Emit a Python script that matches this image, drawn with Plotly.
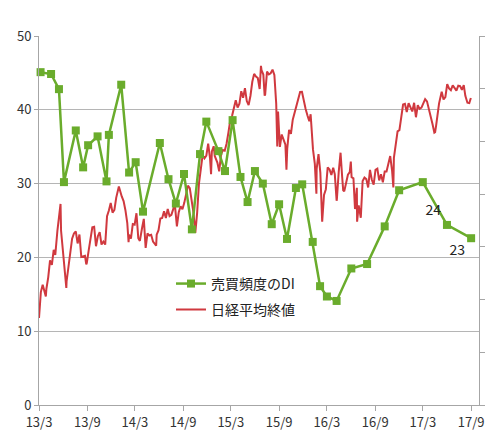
import plotly.graph_objects as go

# ---- 売買頻度のDI (left axis) ----
di_dates = ["2013-03-07", "2013-04-16", "2013-05-16", "2013-06-04", "2013-07-19", "2013-08-16",
            "2013-09-04", "2013-10-10", "2013-11-13", "2013-11-22", "2014-01-08", "2014-02-07",
            "2014-03-04", "2014-04-01", "2014-06-04", "2014-07-07", "2014-08-04", "2014-09-04",
            "2014-10-04", "2014-11-04", "2014-11-28", "2015-01-13", "2015-02-07", "2015-03-08",
            "2015-04-07", "2015-05-04", "2015-06-01", "2015-07-01", "2015-08-04", "2015-09-01",
            "2015-10-01", "2015-11-04", "2015-11-28", "2016-01-07", "2016-02-04", "2016-03-01",
            "2016-04-07", "2016-06-02", "2016-08-01", "2016-10-07", "2016-12-01", "2017-03-01",
            "2017-06-01", "2017-09-01"]
di_values = [45.1, 44.85, 42.8, 30.2, 37.2, 32.2,
             35.2, 36.4, 30.3, 36.6, 43.4, 31.5,
             32.9, 26.2, 35.5, 30.6, 27.3, 31.3,
             23.8, 34.0, 38.4, 34.4, 31.7, 38.6,
             30.9, 27.5, 31.7, 30.0, 24.5, 27.2,
             22.5, 29.4, 29.9, 22.1, 16.1, 14.7,
             14.1, 18.5, 19.1, 24.2, 29.1, 30.2,
             24.4, 22.6]
labelled_points = [len(di_values) - 2, len(di_values) - 1]

# ---- 日経平均終値 (right axis, yen) ----
nikkei = [
    ("2013-03-01", 11300), ("2013-03-04", 11650), ("2013-03-08", 12283), ("2013-03-15", 12560),
    ("2013-03-22", 12338), ("2013-03-27", 12120), ("2013-03-29", 12398), ("2013-04-05", 12833),
    ("2013-04-12", 13485), ("2013-04-19", 13317), ("2013-04-26", 13884), ("2013-05-02", 13694),
    ("2013-05-10", 14607), ("2013-05-17", 15138), ("2013-05-22", 15627), ("2013-05-24", 14612),
    ("2013-05-31", 13774), ("2013-06-07", 12877), ("2013-06-13", 12445), ("2013-06-14", 12686),
    ("2013-06-21", 13230), ("2013-06-28", 13677), ("2013-07-05", 14309), ("2013-07-12", 14506),
    ("2013-07-19", 14589), ("2013-07-26", 14129), ("2013-08-02", 14466), ("2013-08-09", 13615),
    ("2013-08-16", 13650), ("2013-08-23", 13660), ("2013-08-28", 13338), ("2013-08-30", 13389),
    ("2013-09-06", 13860), ("2013-09-13", 14404), ("2013-09-20", 14742), ("2013-09-27", 14760),
    ("2013-10-04", 14024), ("2013-10-11", 14404), ("2013-10-18", 14561), ("2013-10-25", 14088),
    ("2013-11-01", 14201), ("2013-11-08", 14086), ("2013-11-15", 15166), ("2013-11-22", 15381),
    ("2013-11-29", 15662), ("2013-12-06", 15299), ("2013-12-13", 15403), ("2013-12-20", 15870),
    ("2013-12-27", 16178), ("2013-12-30", 16291), ("2014-01-10", 15912), ("2014-01-17", 15734),
    ("2014-01-24", 15391), ("2014-01-31", 14915), ("2014-02-05", 14180), ("2014-02-07", 14462),
    ("2014-02-14", 14313), ("2014-02-21", 14865), ("2014-02-28", 14841), ("2014-03-07", 15274),
    ("2014-03-14", 14327), ("2014-03-20", 14224), ("2014-03-28", 14696), ("2014-04-04", 15063),
    ("2014-04-11", 13960), ("2014-04-18", 14516), ("2014-04-25", 14429), ("2014-05-02", 14457),
    ("2014-05-09", 14199), ("2014-05-16", 14097), ("2014-05-21", 14043), ("2014-05-23", 14462),
    ("2014-05-30", 14632), ("2014-06-06", 15077), ("2014-06-13", 15097), ("2014-06-20", 15349),
    ("2014-06-27", 15095), ("2014-07-04", 15437), ("2014-07-11", 15164), ("2014-07-18", 15215),
    ("2014-07-25", 15457), ("2014-07-31", 15621), ("2014-08-08", 14778), ("2014-08-15", 15318),
    ("2014-08-22", 15539), ("2014-08-29", 15425), ("2014-09-05", 15669), ("2014-09-12", 15948),
    ("2014-09-19", 16321), ("2014-09-26", 16229), ("2014-10-03", 15708), ("2014-10-10", 15300),
    ("2014-10-17", 14532), ("2014-10-24", 15291), ("2014-10-31", 16413), ("2014-11-07", 16880),
    ("2014-11-14", 17490), ("2014-11-21", 17357), ("2014-11-28", 17459), ("2014-12-05", 17920),
    ("2014-12-12", 17371), ("2014-12-16", 16755), ("2014-12-19", 17621), ("2014-12-26", 17818),
    ("2014-12-30", 17451), ("2015-01-09", 17197), ("2015-01-16", 16864), ("2015-01-23", 17511),
    ("2015-01-30", 17674), ("2015-02-06", 17648), ("2015-02-13", 17913), ("2015-02-20", 18332),
    ("2015-02-27", 18798), ("2015-03-06", 18971), ("2015-03-13", 19254), ("2015-03-20", 19560),
    ("2015-03-27", 19286), ("2015-04-03", 19435), ("2015-04-10", 19908), ("2015-04-17", 19653),
    ("2015-04-24", 20020), ("2015-05-01", 19531), ("2015-05-08", 19379), ("2015-05-15", 19733),
    ("2015-05-22", 20264), ("2015-05-29", 20563), ("2015-06-05", 20460), ("2015-06-12", 20407),
    ("2015-06-19", 19990), ("2015-06-24", 20868), ("2015-06-26", 20706), ("2015-07-03", 20539),
    ("2015-07-08", 19737), ("2015-07-10", 19779), ("2015-07-17", 20650), ("2015-07-24", 20544),
    ("2015-07-31", 20585), ("2015-08-07", 20724), ("2015-08-14", 20519), ("2015-08-21", 19435),
    ("2015-08-25", 17806), ("2015-08-28", 19136), ("2015-09-04", 17792), ("2015-09-11", 18264),
    ("2015-09-18", 18070), ("2015-09-25", 17880), ("2015-09-29", 16931), ("2015-10-02", 17725),
    ("2015-10-09", 18438), ("2015-10-16", 18291), ("2015-10-23", 18825), ("2015-10-30", 19083),
    ("2015-11-06", 19265), ("2015-11-13", 19597), ("2015-11-20", 19879), ("2015-11-27", 19883),
    ("2015-12-04", 19504), ("2015-12-11", 19230), ("2015-12-18", 18986), ("2015-12-25", 18769),
    ("2015-12-30", 19033), ("2016-01-08", 17697), ("2016-01-15", 17147), ("2016-01-21", 16017),
    ("2016-01-22", 16958), ("2016-01-29", 17518), ("2016-02-05", 16819), ("2016-02-12", 14952),
    ("2016-02-19", 15967), ("2016-02-26", 16188), ("2016-03-04", 17014), ("2016-03-11", 16938),
    ("2016-03-18", 16724), ("2016-03-25", 17002), ("2016-03-31", 16758), ("2016-04-07", 15749),
    ("2016-04-08", 15821), ("2016-04-15", 16848), ("2016-04-22", 17572), ("2016-04-28", 16666),
    ("2016-05-02", 16147), ("2016-05-06", 16106), ("2016-05-13", 16412), ("2016-05-20", 16736),
    ("2016-05-27", 16834), ("2016-05-31", 17234), ("2016-06-03", 16642), ("2016-06-10", 16601),
    ("2016-06-16", 15434), ("2016-06-17", 15599), ("2016-06-23", 16238), ("2016-06-24", 14952),
    ("2016-06-30", 15575), ("2016-07-08", 15106), ("2016-07-15", 16497), ("2016-07-22", 16627),
    ("2016-07-29", 16569), ("2016-08-05", 16254), ("2016-08-12", 16919), ("2016-08-19", 16545),
    ("2016-08-26", 16360), ("2016-09-02", 16925), ("2016-09-09", 16965), ("2016-09-16", 16519),
    ("2016-09-23", 16754), ("2016-09-30", 16449), ("2016-10-07", 16860), ("2016-10-14", 16856),
    ("2016-10-21", 17184), ("2016-10-28", 17446), ("2016-11-04", 16905), ("2016-11-09", 16251),
    ("2016-11-11", 17374), ("2016-11-18", 17968), ("2016-11-25", 18381), ("2016-12-02", 18426),
    ("2016-12-09", 18996), ("2016-12-16", 19401), ("2016-12-23", 19427), ("2016-12-30", 19114),
    ("2017-01-06", 19454), ("2017-01-13", 19287), ("2017-01-20", 19137), ("2017-01-27", 19467),
    ("2017-02-03", 18918), ("2017-02-10", 19378), ("2017-02-17", 19235), ("2017-02-24", 19283),
    ("2017-03-03", 19469), ("2017-03-10", 19604), ("2017-03-17", 19521), ("2017-03-24", 19262),
    ("2017-03-31", 18909), ("2017-04-07", 18664), ("2017-04-14", 18335), ("2017-04-17", 18355),
    ("2017-04-21", 18620), ("2017-04-28", 19197), ("2017-05-02", 19445), ("2017-05-12", 19883),
    ("2017-05-19", 19590), ("2017-05-26", 19686), ("2017-06-02", 20177), ("2017-06-09", 20013),
    ("2017-06-16", 19943), ("2017-06-23", 20132), ("2017-06-30", 20033), ("2017-07-07", 19929),
    ("2017-07-14", 20118), ("2017-07-21", 20099), ("2017-07-28", 19959), ("2017-08-04", 20133),
    ("2017-08-10", 19729), ("2017-08-18", 19470), ("2017-08-25", 19452), ("2017-08-31", 19646),
]
nikkei_dates = [d for d, _ in nikkei]
nikkei_values = [v for _, v in nikkei]

# ---- axis ticks ----
x_tick_vals = ["2013-03-01", "2013-09-01", "2014-03-01", "2014-09-01", "2015-03-01",
               "2015-09-01", "2016-03-01", "2016-09-01", "2017-03-01", "2017-09-01"]
x_tick_text = ["13/3", "13/9", "14/3", "14/9", "15/3", "15/9", "16/3", "16/9", "17/3", "17/9"]
di_ticks = [0, 10, 20, 30, 40, 50]
nikkei_ticks = [8000, 10000, 12000, 14000, 16000, 18000, 20000, 22000]

FONT = "Noto Sans CJK JP"
GREEN = "#6aac2c"
RED = "#d0393f"
AXIS = "#a6a6a6"

di_text = ["" for _ in di_values]
di_pos = ["top left" for _ in di_values]
for i in labelled_points:
    di_text[i] = f"{di_values[i]:.0f}"
di_pos[labelled_points[0]] = "top left"
di_pos[labelled_points[1]] = "bottom left"

fig = go.Figure()
fig.add_trace(go.Scatter(
    x=di_dates, y=di_values, yaxis="y2", name="売買頻度のDI", legend="legend",
    mode="lines+markers+text", text=di_text, textposition=di_pos,
    textfont=dict(family=FONT, size=14, color="#222222"),
    line=dict(color=GREEN, width=2.5),
    marker=dict(symbol="square", size=8, color=GREEN),
    cliponaxis=False,
))
fig.add_trace(go.Scatter(
    x=nikkei_dates, y=nikkei_values, yaxis="y", name="日経平均終値", legend="legend2",
    mode="lines", line=dict(color=RED, width=2),
))

leg_common = dict(xanchor="left", yanchor="middle", bgcolor="rgba(0,0,0,0)",
                  font=dict(family=FONT, size=14, color="#222222"), itemwidth=30)

fig.update_layout(
    width=485, height=433,
    margin=dict(l=39, r=6, t=36, b=28, autoexpand=False),
    paper_bgcolor="white", plot_bgcolor="white",
    font=dict(family=FONT, size=13, color="#333333"),
    showlegend=True,
    legend=dict(x=0.3, y=0.328, **leg_common),
    legend2=dict(x=0.3, y=0.258, **leg_common),
    xaxis=dict(type="date", range=["2013-03-01", "2017-10-01"],
               tickvals=x_tick_vals, ticktext=x_tick_text, automargin=False,
               ticklabeloverflow="allow",
               showgrid=False, zeroline=False,
               showline=True, linecolor=AXIS, linewidth=1,
               ticks="outside", ticklen=5, tickcolor=AXIS,
               tickfont=dict(family=FONT, size=13, color="#333333")),
    yaxis=dict(range=[8000, 22000], tickvals=nikkei_ticks, side="right", automargin=False,
               showticklabels=False, showgrid=False, zeroline=False,
               showline=True, linecolor=AXIS, linewidth=1,
               ticks="outside", ticklen=5, tickcolor=AXIS),
    yaxis2=dict(range=[0, 50], tickvals=di_ticks, side="left", overlaying="y", automargin=False,
                showgrid=True, gridcolor="#b5b5b5", gridwidth=1, zeroline=False,
                showline=True, linecolor=AXIS, linewidth=1,
                ticks="outside", ticklen=4, tickcolor=AXIS,
                tickfont=dict(family=FONT, size=13, color="#333333")),
)

fig.write_html(
    "out.html",
    config={"displayModeBar": False},
    post_script="document.body.style.margin='0px';document.body.style.overflow='hidden';",
)
